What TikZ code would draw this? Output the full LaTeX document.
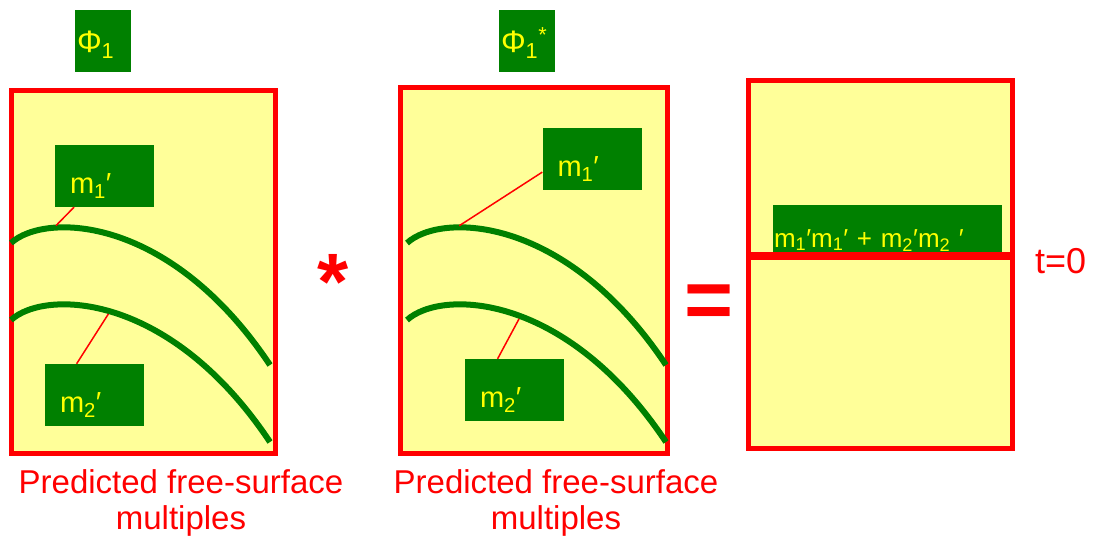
\documentclass[tikz,border=0pt]{standalone}
\usepackage{fontspec}
\setmainfont{Liberation Sans}
\usepackage{xcolor}
\usetikzlibrary{calc}

\definecolor{paneyellow}{HTML}{FFFF99}
\definecolor{labgreen}{HTML}{008000}
\definecolor{labyellow}{HTML}{FFFF00}

\tikzset{
  panel/.style={fill=paneyellow, draw=red, line width=5pt},
  event/.style={draw=labgreen, line width=6pt},
  leader/.style={draw=red, line width=1.5pt, shorten >=3pt},
  lbl/.style={fill=labgreen, text=labyellow, font=\fontsize{29}{34}\selectfont,
    minimum width=99pt, minimum height=62pt, inner xsep=15pt, inner ysep=0pt,
    text width=69pt, align=left, text height=34pt, text depth=0pt},
  phibox/.style={lbl, minimum width=56pt, inner xsep=2pt, text width=52pt,
    text height=22pt, font=\fontsize{31}{34}\selectfont},
  caption/.style={text=red, font=\fontsize{33}{36}\selectfont, align=center}
}

\begin{document}
\begin{tikzpicture}[x=1pt, y=-1pt]
\useasboundingbox (0,0) rectangle (1093,542);

% Panels
\filldraw[panel] (11.5,90) rectangle (275.5,453);
\filldraw[panel] (400.5,87) rectangle (667.5,453);
\filldraw[panel] (748.5,80) rectangle (1012.5,448);

% Events, left panel
\draw[event] (11,243) .. controls (45,212) and (170,215) .. (270,365)
  coordinate[pos=0.26] (c1a);
\draw[event] (11,320) .. controls (45,289) and (170,292) .. (270,442)
  coordinate[pos=0.48] (c2a);

% Events, middle panel
\begin{scope}[shift={(396,0)}]
\draw[event] (11,243) .. controls (45,212) and (170,215) .. (270,365)
  coordinate[pos=0.29] (c1b);
\draw[event] (11,320) .. controls (45,289) and (170,292) .. (270,442)
  coordinate[pos=0.53] (c2b);
\end{scope}

% Labels
\node[phibox] (phia) at (103,41) {Φ\textsubscript{1}};
\node[phibox] (phib) at (527,41) {Φ\textsubscript{1}\textsuperscript{*}};
\node[lbl] (m1a) at (104.5,176) {m\textsubscript{1}′};
\node[lbl] (m2a) at (94.5,395) {m\textsubscript{2}′};
\node[lbl] (m1b) at (592,159) {m\textsubscript{1}′};
\node[lbl] (m2b) at (514.5,390) {m\textsubscript{2}′};

% Leaders
\draw[leader] (m1a) -- (c1a);
\draw[leader] ($(m2a.north west)!0.32!(m2a.north east)$) -- (c2a);
\draw[leader] ($(m1b.south west)!0.29!(m1b.north west)$) -- (c1b);
\draw[leader] ($(m2b.north west)!0.33!(m2b.north east)$) -- (c2b);

% Sum of products
\node[lbl, minimum width=229pt, minimum height=48pt, inner xsep=1pt,
  text width=227pt, text height=36pt, font=\fontsize{26}{32}\selectfont] (sum) at (887.5,229)
  {m\textsubscript{1}′m\textsubscript{1}′ + m\textsubscript{2}′m\textsubscript{2} ′};
\draw[red, line width=8pt] (748.5,256) -- (1012.5,256);
\node[text=red, font=\fontsize{36}{40}\selectfont, anchor=base west, inner sep=0pt]
  (tzero) at (1035,273) {t=0};

% Operators
\node[text=red, font=\fontsize{80}{80}\bfseries, anchor=base, inner sep=0pt]
  (conv) at (333,309) {*};
\node[text=red, font=\fontsize{84}{84}\bfseries, anchor=base, inner sep=0pt]
  (equal) at (709.5,328) {=};

% Captions
\node[caption, anchor=north] (capa) at (181,466) {Predicted free-surface\\multiples};
\node[caption, anchor=north] (capb) at (556,466) {Predicted free-surface\\multiples};

\end{tikzpicture}
\end{document}
